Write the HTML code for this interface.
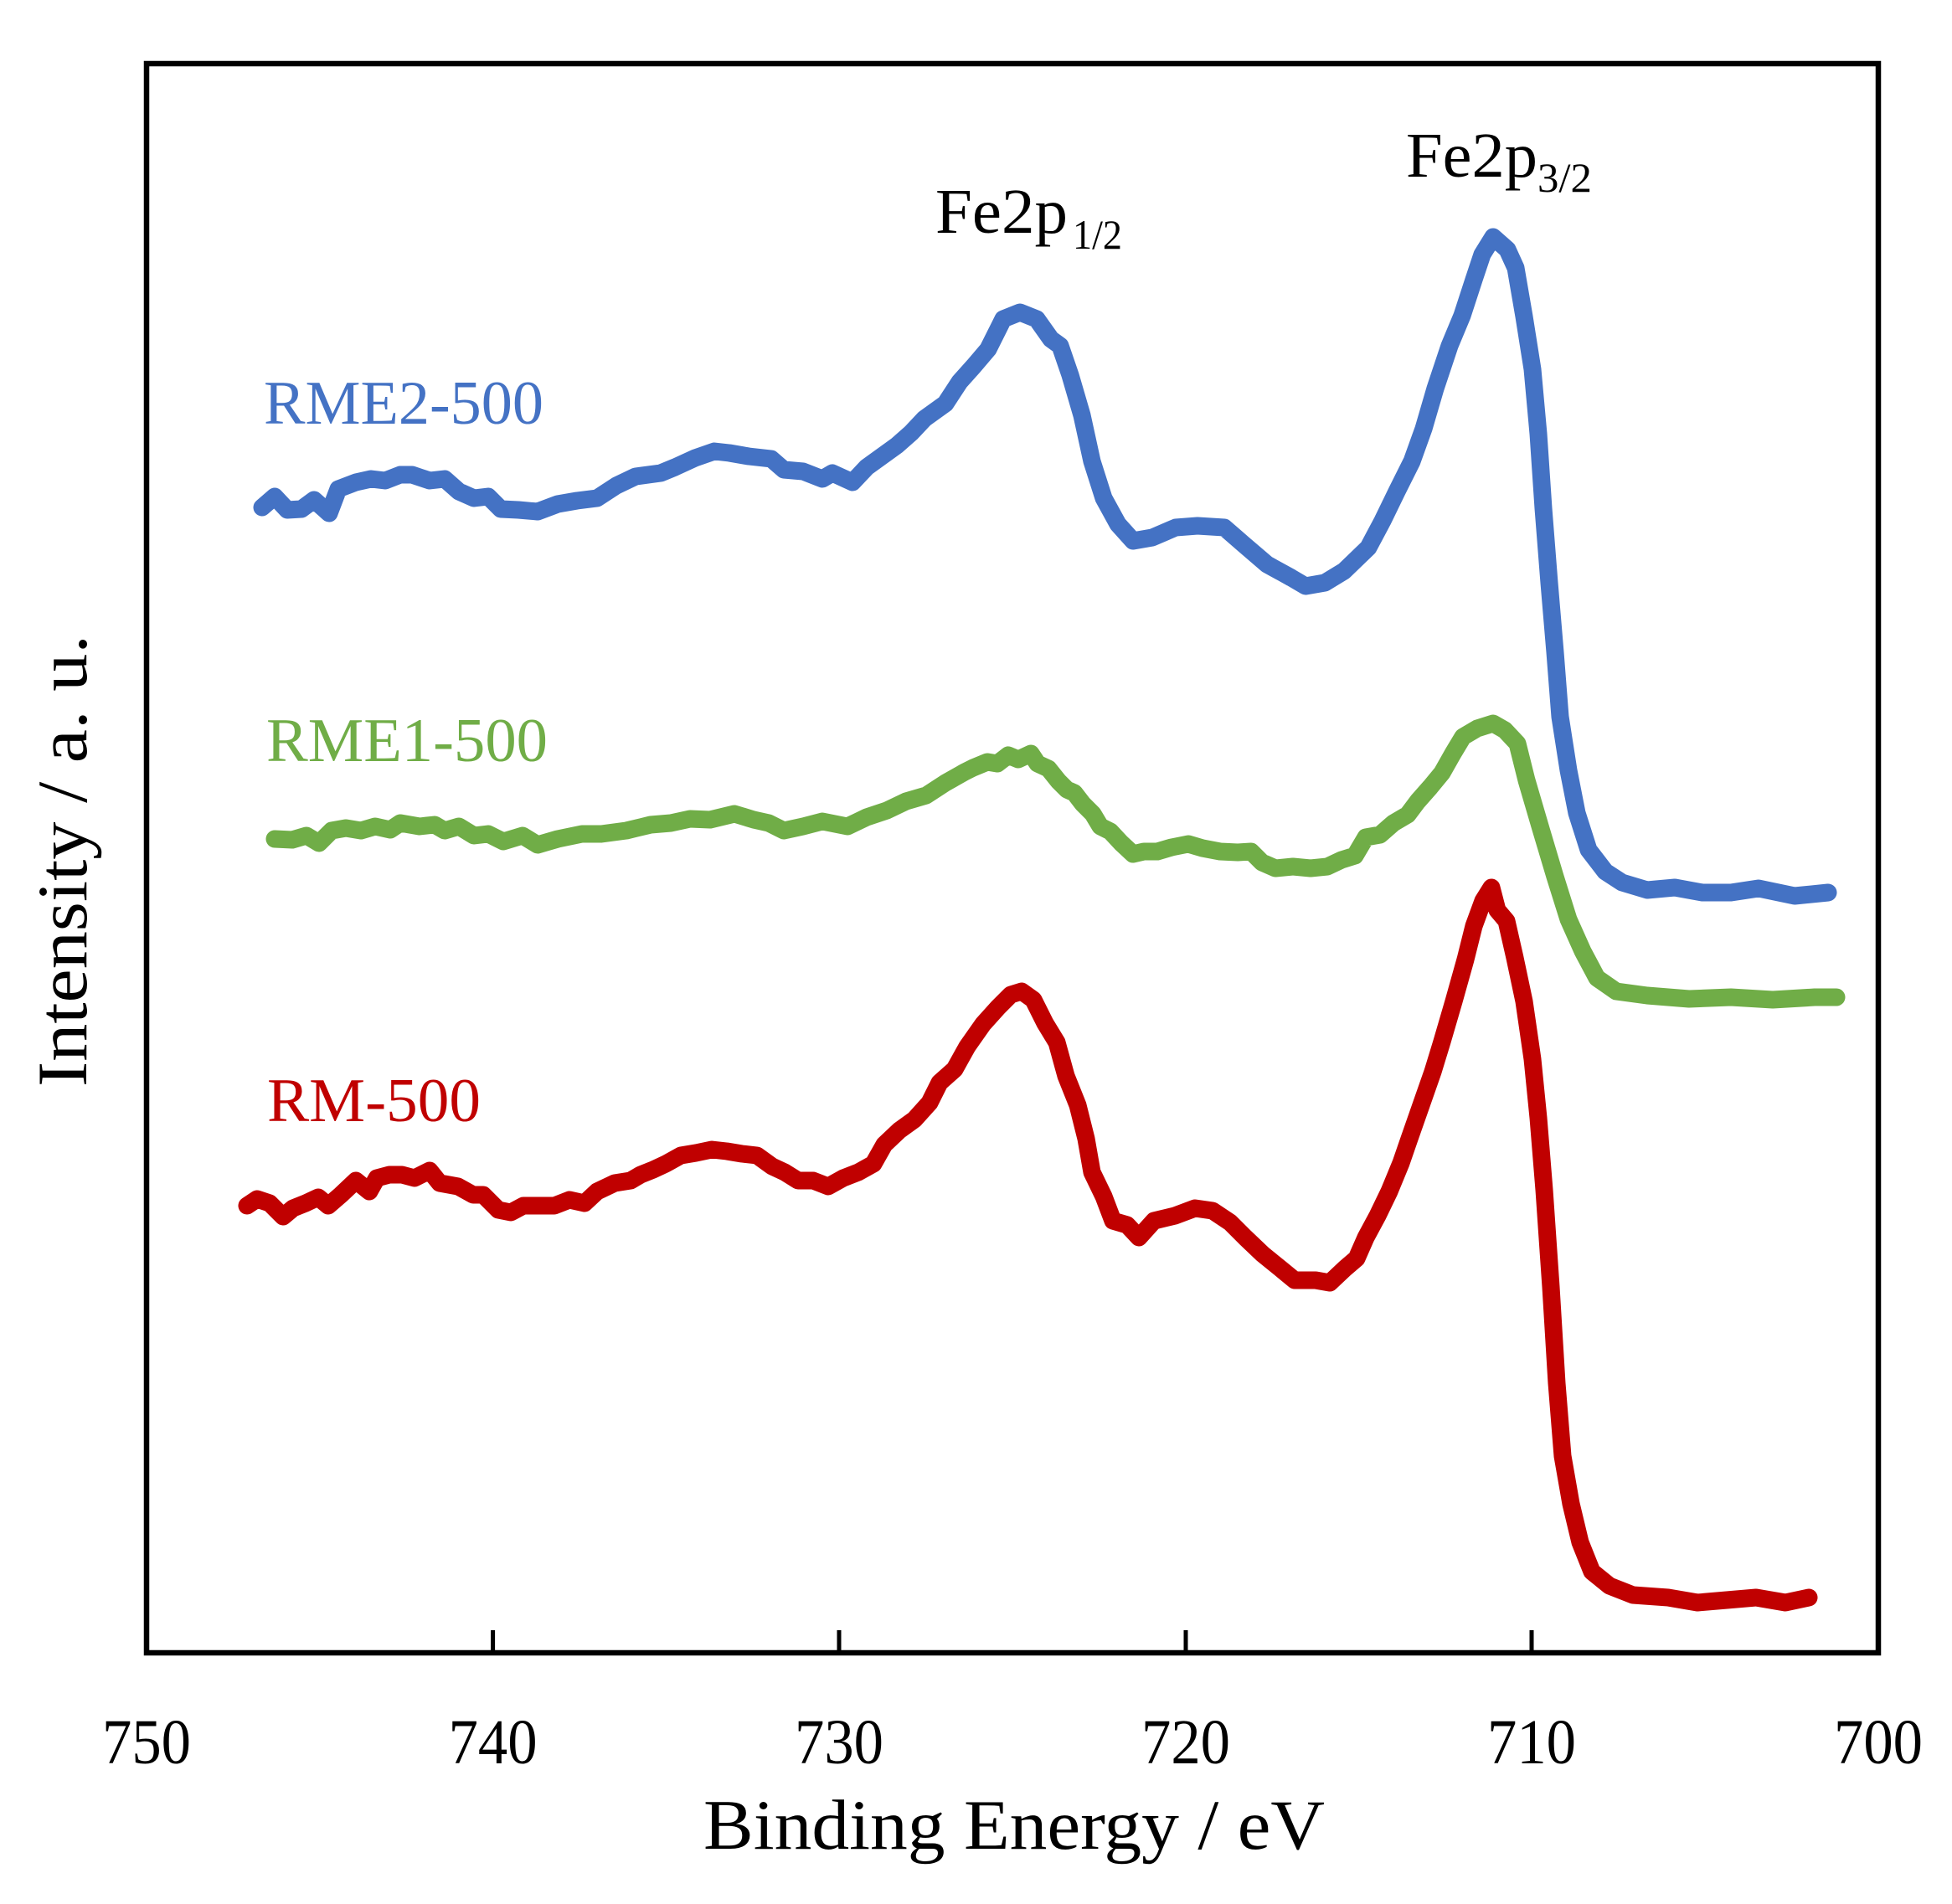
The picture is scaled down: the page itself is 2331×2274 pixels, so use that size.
<!DOCTYPE html>
<html>
<head>
<meta charset="utf-8">
<style>
  html, body { margin: 0; padding: 0; background: #ffffff; }
  svg { display: block; }
  text { font-family: "Liberation Serif", "DejaVu Serif", serif; }
</style>
</head>
<body>
<svg xmlns="http://www.w3.org/2000/svg" width="2331" height="2274" viewBox="0 0 2331 2274">
  <rect x="0" y="0" width="2331" height="2274" fill="#ffffff"/>

  <!-- Curves -->
  <g fill="none" stroke-width="21" stroke-linejoin="round" stroke-linecap="round">
    <!-- RME2-500 (blue) -->
    <polyline stroke="#4472C4" points="313,606 328,593 343,609 360,608 375,597 393,613 404,584 425,576 443,572 460,574 478,567 492,567 513,574 531,572 548,587 566,595 583,593 598,608 619,609 642,611 666,602 689,598 713,595 736,580 759,569 789,565 806,558 830,547 853,539 871,541 894,545 921,548 936,561 959,563 982,572 994,565 1018,576 1035,558 1053,545 1071,532 1088,517 1104,500 1129,482 1146,456 1163,437 1180,417 1198,381 1218,373 1238,381 1255,405 1266,413 1278,448 1292,496 1304,551 1318,595 1335,626 1353,646 1376,642 1404,630 1430,628 1462,630 1485,650 1513,674 1542,690 1559,700 1582,696 1605,682 1634,654 1651,622 1668,587 1686,551 1700,512 1714,464 1731,413 1746,377 1760,334 1770,304 1783,283 1800,298 1810,320 1820,378 1830,441 1837,518 1843,607 1850,696 1857,779 1863,856 1873,920 1883,971 1897,1015 1917,1041 1937,1054 1967,1063 2000,1060 2033,1066 2067,1066 2100,1061 2143,1070 2183,1066"/>
    <!-- RME1-500 (green) -->
    <polyline stroke="#70AD47" points="328,1002 349,1003 366,998 381,1007 396,992 413,989 431,992 448,987 466,991 478,983 501,987 519,985 531,992 548,987 566,998 583,996 601,1005 624,998 642,1009 666,1002 695,996 718,996 748,992 777,985 801,983 824,978 848,979 877,972 900,979 918,983 936,992 959,987 982,981 1012,987 1035,976 1059,968 1082,957 1106,950 1129,935 1152,922 1162,917 1179,910 1191,912 1204,902 1216,907 1231,900 1239,912 1252,918 1264,933 1274,943 1283,947 1293,960 1305,972 1314,987 1326,993 1339,1007 1353,1020 1366,1017 1382,1017 1399,1012 1419,1008 1436,1013 1457,1017 1478,1018 1494,1017 1507,1030 1523,1037 1544,1035 1565,1037 1585,1035 1602,1027 1618,1022 1631,1000 1648,997 1664,983 1681,973 1693,957 1708,940 1722,923 1735,900 1747,880 1764,870 1783,864 1797,872 1812,888 1823,932 1840,990 1857,1047 1873,1098 1890,1136 1907,1168 1930,1184 1967,1189 2017,1193 2067,1191 2117,1194 2167,1191 2193,1191"/>
    <!-- RM-500 (red) -->
    <polyline stroke="#C00000" points="295,1440 307,1432 322,1437 338,1453 350,1443 365,1437 380,1430 392,1440 407,1427 425,1410 441,1423 450,1407 465,1403 480,1403 495,1407 513,1398 525,1413 547,1417 565,1427 577,1427 595,1445 610,1448 625,1440 644,1440 662,1440 680,1433 698,1437 713,1423 734,1413 753,1410 765,1403 780,1397 795,1390 813,1380 831,1377 850,1373 868,1375 886,1378 904,1380 922,1393 937,1400 953,1410 971,1410 989,1417 1007,1407 1025,1400 1043,1390 1056,1367 1074,1350 1092,1337 1110,1317 1122,1293 1140,1277 1155,1250 1174,1223 1192,1203 1207,1188 1220,1184 1234,1194 1248,1222 1262,1245 1273,1285 1287,1320 1297,1360 1304,1400 1318,1429 1329,1458 1346,1463 1360,1478 1378,1458 1403,1452 1427,1443 1448,1446 1469,1460 1487,1478 1508,1498 1529,1515 1546,1529 1571,1529 1588,1532 1606,1515 1620,1503 1631,1478 1645,1452 1659,1423 1673,1389 1683,1360 1697,1320 1711,1280 1722,1244 1736,1196 1750,1146 1760,1106 1771,1076 1781,1060 1788,1087 1799,1100 1809,1144 1820,1196 1830,1265 1837,1335 1844,1421 1852,1537 1859,1652 1866,1739 1876,1796 1887,1842 1901,1877 1922,1894 1950,1905 1992,1908 2027,1914 2062,1911 2097,1908 2132,1914 2160,1908"/>
  </g>

  <!-- Frame -->
  <rect x="175" y="76" width="2068" height="1898" fill="none" stroke="#000000" stroke-width="6.5"/>

  <!-- Ticks -->
  <g stroke="#000000" stroke-width="5">
    <line x1="588.6" y1="1947" x2="588.6" y2="1974"/>
    <line x1="1002" y1="1947" x2="1002" y2="1974"/>
    <line x1="1416" y1="1947" x2="1416" y2="1974"/>
    <line x1="1829" y1="1947" x2="1829" y2="1974"/>
  </g>

  <!-- Tick labels -->
  <g font-size="76" fill="#000000" text-anchor="middle">
    <text x="175" y="2106" textLength="106" lengthAdjust="spacingAndGlyphs">750</text>
    <text x="588.6" y="2106" textLength="106" lengthAdjust="spacingAndGlyphs">740</text>
    <text x="1002" y="2106" textLength="106" lengthAdjust="spacingAndGlyphs">730</text>
    <text x="1416" y="2106" textLength="106" lengthAdjust="spacingAndGlyphs">720</text>
    <text x="1829" y="2106" textLength="106" lengthAdjust="spacingAndGlyphs">710</text>
    <text x="2243" y="2106" textLength="106" lengthAdjust="spacingAndGlyphs">700</text>
  </g>

  <!-- Axis titles -->
  <text x="840" y="2208" font-size="85" fill="#000000" textLength="742" lengthAdjust="spacingAndGlyphs">Binding Energy / eV</text>
  <text transform="translate(103,1298) rotate(-90)" font-size="85" fill="#000000" textLength="540" lengthAdjust="spacingAndGlyphs">Intensity / a. u.</text>

  <!-- Peak annotations -->
  <text x="1117" y="278" font-size="76" fill="#000000" textLength="158" lengthAdjust="spacingAndGlyphs">Fe2p</text>
  <text x="1281" y="297" font-size="50" fill="#000000" textLength="59" lengthAdjust="spacingAndGlyphs">1/2</text>
  <text x="1679" y="211" font-size="76" fill="#000000" textLength="157" lengthAdjust="spacingAndGlyphs">Fe2p</text>
  <text x="1836" y="229" font-size="50" fill="#000000" textLength="65" lengthAdjust="spacingAndGlyphs">3/2</text>

  <!-- Series labels -->
  <text x="315" y="506" font-size="74" fill="#4472C4" textLength="334" lengthAdjust="spacingAndGlyphs">RME2-500</text>
  <text x="318" y="909" font-size="74" fill="#70AD47" textLength="336" lengthAdjust="spacingAndGlyphs">RME1-500</text>
  <text x="319" y="1339" font-size="74" fill="#C00000" textLength="255" lengthAdjust="spacingAndGlyphs">RM-500</text>
</svg>
</body>
</html>
